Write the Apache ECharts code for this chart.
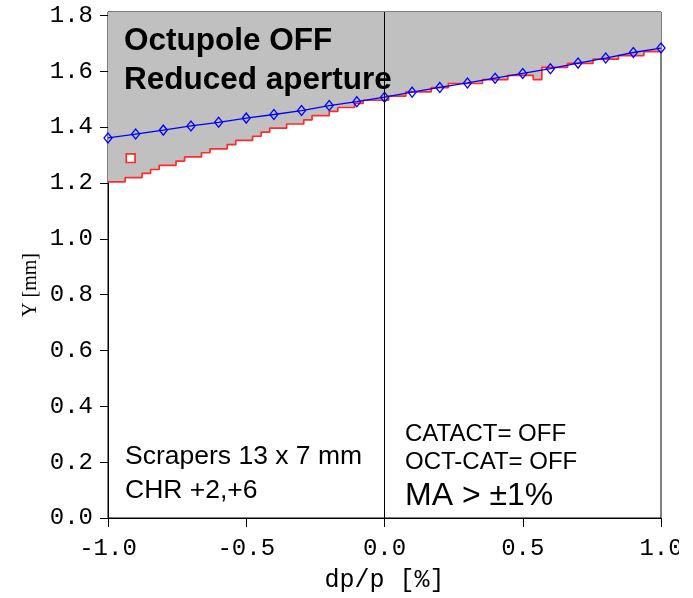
<!DOCTYPE html>
<html>
<head>
<meta charset="utf-8">
<script src="https://cdn.jsdelivr.net/npm/echarts@6/dist/echarts.min.js"></script>
<style>
  html, body { margin: 0; padding: 0; background: #fff; }
  #chart { width: 693px; height: 598px; }
</style>
</head>
<body>
<div id="chart"></div>
<script>
// Axis tick values
const xTickValues = [-1.0, -0.5, 0.0, 0.5, 1.0];
const yTickValues = [0.0, 0.2, 0.4, 0.6, 0.8, 1.0, 1.2, 1.4, 1.6, 1.8];

// Dynamic aperture from tracking (blue, diamonds), dp/p in %, Y in mm
const scanDpp = [-1.0, -0.9, -0.8, -0.7, -0.6, -0.5, -0.4, -0.3, -0.2, -0.1, 0.0,
                 0.1, 0.2, 0.3, 0.4, 0.5, 0.6, 0.7, 0.8, 0.9, 1.0];
const apertureY = [1.361, 1.375, 1.389, 1.404, 1.417, 1.432, 1.445, 1.459, 1.477, 1.491, 1.507,
                   1.525, 1.542, 1.558, 1.575, 1.592, 1.609, 1.629, 1.647, 1.667, 1.683];

// Lower edge of the loss region (red staircase): start of each step and its level
const lossEdgeDpp = [-1.000, -0.938, -0.877, -0.846, -0.815, -0.754, -0.723, -0.662, -0.631,
                     -0.569, -0.538, -0.477, -0.446, -0.415, -0.354, -0.292, -0.262, -0.200,
                     -0.169, -0.108, -0.077, 0.015, 0.077, 0.169, 0.231, 0.354, 0.446,
                     0.538, 0.569, 0.662, 0.754, 0.846, 0.938, 1.000];
const lossEdgeY = [1.204, 1.219, 1.234, 1.248, 1.263, 1.278, 1.293, 1.308, 1.322,
                   1.337, 1.352, 1.367, 1.382, 1.396, 1.411, 1.426, 1.441, 1.456,
                   1.470, 1.485, 1.496, 1.511, 1.526, 1.541, 1.556, 1.570, 1.585,
                   1.570, 1.614, 1.628, 1.643, 1.656, 1.670, 1.670];

// Isolated stable cell inside the loss region: [dp/p from, dp/p to, Y from, Y to]
const stableIsland = [[-0.934, -0.902, 1.273, 1.304]];

const MONO = '"Liberation Mono", "DejaVu Sans Mono", monospace';
const SANS = '"Liberation Sans", Arial, sans-serif';
const SERIF = '"Liberation Serif", "DejaVu Serif", serif';

const chart = echarts.init(document.getElementById('chart'), null, { renderer: 'canvas' });

const option = {
  animation: false,
  backgroundColor: '#ffffff',
  grid: {
    left: 108, right: 32, top: 12, bottom: 75,
    show: true, borderColor: '#000', borderWidth: 1, backgroundColor: 'transparent'
  },
  xAxis: {
    type: 'value', min: -1, max: 1, interval: 0.5,
    name: 'dp/p [%]', nameLocation: 'middle', nameGap: 50,
    nameTextStyle: { fontFamily: MONO, fontSize: 25, color: '#000' },
    axisLine: { show: true, onZero: false, lineStyle: { color: '#000', width: 1 } },
    axisTick: { show: true, inside: false, length: 9, customValues: xTickValues, lineStyle: { color: '#000' } },
    axisLabel: {
      customValues: xTickValues, margin: 19, fontFamily: MONO, fontSize: 24, color: '#000',
      formatter: v => v.toFixed(1)
    },
    splitLine: { show: false }
  },
  yAxis: {
    type: 'value', min: 0, max: 1.812,
    axisLine: { show: true, onZero: false, lineStyle: { color: '#000', width: 1 } },
    axisTick: { show: true, inside: false, length: 8, customValues: yTickValues, lineStyle: { color: '#000' } },
    axisLabel: {
      customValues: yTickValues, margin: 15, fontFamily: MONO, fontSize: 24, color: '#000',
      formatter: v => v.toFixed(1)
    },
    splitLine: { show: false }
  },
  series: [
    {
      // loss region: grey above the red staircase edge
      type: 'line',
      step: 'end',
      data: lossEdgeDpp.map((x, i) => [x, lossEdgeY[i]]),
      showSymbol: false,
      lineStyle: { color: '#ff2a2a', width: 1.7 },
      areaStyle: { origin: 'end', color: '#c0c0c0', opacity: 1 },
      z: 1,
      silent: true
    },
    {
      type: 'custom',
      data: stableIsland,
      renderItem: function (params, api) {
        const p0 = api.coord([api.value(0), api.value(3)]);
        const p1 = api.coord([api.value(1), api.value(2)]);
        return {
          type: 'rect',
          shape: { x: p0[0], y: p0[1], width: p1[0] - p0[0], height: p1[1] - p0[1] },
          style: { fill: '#ffffff', stroke: '#ff2a2a', lineWidth: 1.7 }
        };
      },
      z: 2,
      silent: true
    },
    {
      type: 'line',
      data: scanDpp.map((x, i) => [x, apertureY[i]]),
      symbol: 'diamond',
      symbolSize: [8, 10],
      showAllSymbol: true,
      lineStyle: { color: '#0000ff', width: 1.3 },
      itemStyle: { color: 'rgba(0,0,0,0)', borderColor: '#0000ff', borderWidth: 1.3 },
      markLine: {
        silent: true,
        symbol: 'none',
        label: { show: false },
        lineStyle: { color: '#000', width: 1, type: 'solid' },
        data: [{ xAxis: 0 }]
      },
      z: 3,
      silent: true
    }
  ],
  graphic: [
    { type: 'text', x: 31, y: 285, rotation: Math.PI / 2, z: 10,
      style: { text: 'Y [mm]', font: '20px ' + SERIF, fill: '#000', align: 'center', verticalAlign: 'middle' } },
    { type: 'text', left: 124, top: 25, z: 10,
      style: { text: 'Octupole OFF', font: 'bold 31.5px ' + SANS, fill: '#000' } },
    { type: 'text', left: 124, top: 64, z: 10,
      style: { text: 'Reduced aperture', font: 'bold 31.5px ' + SANS, fill: '#000' } },
    { type: 'text', left: 125, top: 443, z: 10,
      style: { text: 'Scrapers 13 x 7 mm', font: '26.5px ' + SANS, fill: '#000' } },
    { type: 'text', left: 125, top: 477, z: 10,
      style: { text: 'CHR +2,+6', font: '26.5px ' + SANS, fill: '#000' } },
    { type: 'text', left: 405, top: 422, z: 10,
      style: { text: 'CATACT= OFF', font: '24px ' + SANS, fill: '#000' } },
    { type: 'text', left: 405, top: 450, z: 10,
      style: { text: 'OCT-CAT= OFF', font: '24px ' + SANS, fill: '#000' } },
    { type: 'text', left: 405, top: 480, z: 10,
      style: { text: 'MA > \u00b11%', font: '32px ' + SANS, fill: '#000' } },
    // page edge strip
    { type: 'rect', left: 679, top: 0, z: 20,
      shape: { width: 14, height: 598 }, style: { fill: '#ffffff' } }
  ]
};

chart.setOption(option);
</script>
</body>
</html>
